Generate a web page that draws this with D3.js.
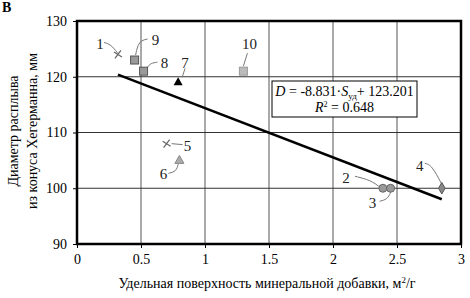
<!DOCTYPE html>
<html><head><meta charset="utf-8">
<script src="https://cdn.jsdelivr.net/npm/d3@7"></script>
<style>body{margin:0;background:#fff}svg{display:block}svg text{font-family:"Liberation Serif","Times New Roman",serif !important}</style>
</head><body><svg id="c" width="470" height="298"></svg>
<script>
const pointLabels = ["1","2","3","4","5","6","7","8","9","10"];
const sValues = [0.32, 2.39, 2.45, 2.85, 0.70, 0.80, 0.79, 0.52, 0.45, 1.30];
const dValues = [124, 100, 100, 100, 108, 105, 119, 121, 123, 121];
const markerTypes = ["x","circle","circle","diamond","x","triGray","triBlack","square","square","squareLight"];
const slope = -8.831, intercept = 123.201, r2 = "0.648";
const xTicks = [0, 0.5, 1, 1.5, 2, 2.5, 3];
const yTicks = [90, 100, 110, 120, 130];

// label placement (pixel offsets relative to point) and leader paths
const labelStyle = {
  "1":  {dx:-18, dy:-11, path:[[-14,-12],[-7,-10],[0,-1]]},
  "2":  {dx:-37, dy:-11, path:[[-28,-12],[-12,-8],[-3,-1]]},
  "3":  {dx:-18, dy:14, path:[[-11,13],[-3,11],[0,4]]},
  "4":  {dx:-22, dy:-23, path:[[-17,-25],[-10,-23],[0,-4]]},
  "5":  {dx:21, dy:2, path:[[5,0],[16,1]]},
  "6":  {dx:-16, dy:13, path:[[-11,13],[-3,11],[-1,3]]},
  "7":  {dx:7, dy:-20, path:[[7,-14],[4,-5]]},
  "8":  {dx:21, dy:-8, path:[[4,-4],[7,-8],[14,-9]]},
  "9":  {dx:21, dy:-20, path:[[1,-5],[4,-19],[13,-21]]},
  "10": {dx:6, dy:-27, path:[[4,-18],[0,-5]]}
};

const W = 470, H = 298;
const m = {l:77, r:9, t:21, b:54};
const svg = d3.select("#c");
const x = d3.scaleLinear().domain([0,3]).range([m.l, W-m.r]);
const y = d3.scaleLinear().domain([90,130]).range([H-m.b, m.t]);
const FF = "'Liberation Serif','Times New Roman',serif";

// grid
svg.append("g").selectAll("line").data(xTicks.slice(1,-1)).join("line")
  .attr("x1", d=>x(d)).attr("x2", d=>x(d)).attr("y1", y(90)).attr("y2", y(130))
  .attr("stroke","#555").attr("stroke-width",1);
svg.append("g").selectAll("line").data(yTicks.slice(1,-1)).join("line")
  .attr("y1", d=>y(d)).attr("y2", d=>y(d)).attr("x1", x(0)).attr("x2", x(3))
  .attr("stroke","#333").attr("stroke-width",1);

// axes
const xAxis = svg.append("g").attr("transform",`translate(0,${y(90)})`)
  .call(d3.axisBottom(x).tickValues(xTicks).tickFormat(d=>String(d)).tickSize(4).tickPadding(6));
const yAxis = svg.append("g").attr("transform",`translate(${x(0)},0)`)
  .call(d3.axisLeft(y).tickValues(yTicks).tickSize(4).tickPadding(6));
[xAxis,yAxis].forEach(g=>{
  g.attr("font-family",FF).attr("font-size",14);
  g.select(".domain").remove();
  g.selectAll("line").attr("stroke","#000");
  g.selectAll("text").attr("font-size",14).attr("fill","#000").style("font-family",FF);
});

// frame
svg.append("rect").attr("x",x(0)).attr("y",y(130)).attr("width",x(3)-x(0)).attr("height",y(90)-y(130))
  .attr("fill","none").attr("stroke","#000").attr("stroke-width",2.5);

// regression line
const sMin = d3.min(sValues), sMax = d3.max(sValues);
svg.append("line").attr("x1",x(sMin)).attr("y1",y(slope*sMin+intercept))
  .attr("x2",x(sMax)).attr("y2",y(slope*sMax+intercept))
  .attr("stroke","#000").attr("stroke-width",2.5);

// leader lines and labels
const pts = pointLabels.map((l,i)=>({l, s:sValues[i], d:dValues[i], t:markerTypes[i]}));
const lineGen = d3.line().curve(d3.curveBasis);
pts.forEach(p=>{
  const px = x(p.s), py = y(p.d), st = labelStyle[p.l];
  svg.append("path").attr("d", lineGen(st.path.map(q=>[px+q[0], py+q[1]])))
    .attr("fill","none").attr("stroke","#777").attr("stroke-width",1);
  svg.append("text").attr("x",px+st.dx).attr("y",py+st.dy).attr("dy","0.35em")
    .attr("text-anchor","middle").attr("font-size",15).attr("fill","#222").text(p.l);
});

// markers
pts.forEach(p=>{
  const px = x(p.s), py = y(p.d);
  const g = svg.append("g").attr("transform",`translate(${px},${py})`);
  if (p.t==="x") {
    g.append("path").attr("d","M-4,-2.5L4,2.5M-3,4L3,-4").attr("stroke","#666").attr("stroke-width",1.2);
  } else if (p.t==="circle") {
    g.append("circle").attr("r",4).attr("fill","#999").attr("stroke","#666").attr("stroke-width",1);
  } else if (p.t==="diamond") {
    g.append("path").attr("d",d3.symbol(d3.symbolDiamond,38)()).attr("fill","#888").attr("stroke","#555");
  } else if (p.t==="triGray") {
    g.append("path").attr("d","M0,-5L4.5,3L-4.5,3Z").attr("fill","#aaa").attr("stroke","#888");
  } else if (p.t==="triBlack") {
    g.append("path").attr("d","M0,-5L4.5,3L-4.5,3Z").attr("fill","#000");
  } else if (p.t==="square") {
    g.append("rect").attr("x",-4).attr("y",-4).attr("width",8).attr("height",8).attr("fill","#999").attr("stroke","#555");
  } else if (p.t==="squareLight") {
    g.append("rect").attr("x",-4).attr("y",-4).attr("width",8).attr("height",8).attr("fill","#bbb").attr("stroke","#999");
  }
});

// equation box
const bx = 272, by = 81, bw = 145, bh = 36;
svg.append("rect").attr("x",bx).attr("y",by).attr("width",bw).attr("height",bh)
  .attr("fill","#fff").attr("stroke","#000").attr("stroke-width",1);
const eq = svg.append("text").attr("x",bx+bw/2).attr("y",by+15).attr("text-anchor","middle").attr("font-size",14);
eq.append("tspan").attr("font-style","italic").text("D");
eq.append("tspan").text(" = " + slope.toFixed(3) + "·");
eq.append("tspan").attr("font-style","italic").text("S");
eq.append("tspan").attr("font-size",9).attr("dy",3).text("уд");
eq.append("tspan").attr("dy",-3).text("+ " + intercept.toFixed(3));
const rt = svg.append("text").attr("x",bx+bw/2).attr("y",by+31).attr("text-anchor","middle").attr("font-size",14);
rt.append("tspan").attr("font-style","italic").text("R");
rt.append("tspan").attr("font-size",8).attr("dy",-5).text("2");
rt.append("tspan").attr("dy",5).text(" = " + r2);

// axis titles
svg.append("text").attr("x",(x(0)+x(3))/2 - 2).attr("y",288).attr("text-anchor","middle").attr("font-size",14)
  .call(t=>{t.append("tspan").text("Удельная поверхность минеральной добавки, м");
           t.append("tspan").attr("font-size",9).attr("dy",-5).text("2");
           t.append("tspan").attr("dy",5).text("/г");});
const yt = svg.append("g").attr("transform","translate(0,131)");
yt.append("text").attr("transform","translate(13,0) rotate(-90)").attr("dy","0.35em")
  .attr("text-anchor","middle").attr("font-size",14).text("Диаметр расплыва");
yt.append("text").attr("transform","translate(32,0) rotate(-90)").attr("dy","0.35em")
  .attr("text-anchor","middle").attr("font-size",14).text("из конуса Хегерманна, мм");

// panel letter
svg.append("text").attr("x",2).attr("y",12).attr("font-size",14).attr("font-weight","bold").text("В");
</script></body></html>
